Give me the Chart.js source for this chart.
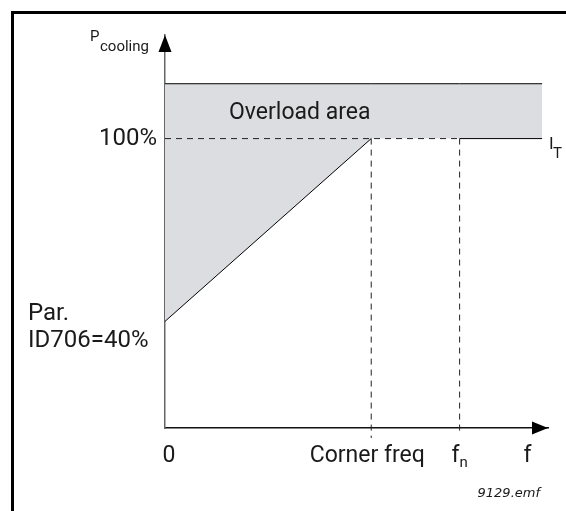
<!DOCTYPE html>
<html>
<head>
<meta charset="utf-8">
<script src="https://cdn.jsdelivr.net/npm/chart.js@4/dist/chart.umd.min.js"></script>
<style>
  html, body { margin: 0; padding: 0; background: #fff; }
  #wrap { position: relative; width: 566px; height: 511px; overflow: hidden; }
  #frame { position: absolute; left: 11px; top: 11px; right: -10px; bottom: -10px;
           border-top: 3px solid #000; border-left: 3px solid #000; }
  canvas { position: absolute; left: 0; top: 0; }
</style>
</head>
<body>
<div id="wrap">
  <div id="frame"></div>
  <canvas id="chart" width="566" height="511"></canvas>
</div>
<script>
// frequency axis is normalised so that f_n = 1
const freqPoints = [0, 0.7, 1.0, 1.28];
const coolingPct = [40, 100, 100, 100];   // I_T curve (lower edge of overload area)
const overloadTop = [118, 118, 118, 118]; // upper edge of the overload area
const rampFreq = [0, 0.7];
const rampPct = [40, 100];
const flatFreq = [1.0, 1.28];
const flatPct = [100, 100];
const guideFreq = [0, 1.0];               // dashed 100% guide
const guidePct = [100, 100];
const cornerFreq = 0.7;
const nominalFreq = 1.0;
const cornerGuidePct = [100, 1.7];
const nominalGuidePct = [100, 3];

const xTickValues = [0, 0.7, 1.0, 1.23];
const xTickLabels = ["0", "Corner freq", "f", "f"];
const xTickSubs = ["", "", "n", ""];

const FONT = "Roboto, 'DejaVu Sans', sans-serif";
const DASH = [6, 5];

function pts(xs, ys) {
  return xs.map((v, i) => ({ x: v, y: ys[i] }));
}

function line(xs, ys, extra) {
  return Object.assign({
    data: pts(xs, ys),
    borderColor: "#000",
    borderWidth: 1,
    fill: false,
    pointRadius: 0
  }, extra || {});
}

const labelPlugin = {
  id: "labels",
  afterDraw(chart) {
    const { ctx, chartArea: a, scales: { x, y } } = chart;
    ctx.save();
    ctx.fillStyle = "#000";

    // axis arrow heads
    ctx.beginPath();
    ctx.moveTo(a.left, a.top);
    ctx.lineTo(a.left - 6.5, a.top + 17);
    ctx.lineTo(a.left + 6.5, a.top + 17);
    ctx.closePath();
    ctx.fill();
    ctx.beginPath();
    ctx.moveTo(a.right, a.bottom);
    ctx.lineTo(a.right - 16, a.bottom - 6.5);
    ctx.lineTo(a.right - 16, a.bottom + 6.5);
    ctx.closePath();
    ctx.fill();

    ctx.fillStyle = "#1a1a1a";
    ctx.textBaseline = "alphabetic";

    // P_cooling
    ctx.textAlign = "left";
    ctx.font = "15px " + FONT;
    ctx.fillText("P", a.left - 75, a.top + 6);
    ctx.fillText("cooling", a.left - 65, a.top + 16);

    // 100%
    const y100 = y.getPixelForValue(100);
    ctx.font = "24px " + FONT;
    ctx.textAlign = "right";
    ctx.textBaseline = "middle";
    ctx.fillText("100%", a.left - 8, y100);

    // Par. ID706=40%
    const y40 = y.getPixelForValue(40);
    ctx.textAlign = "left";
    ctx.fillText("Par.", 28, y40 - 7);
    ctx.fillText("ID706=40%", 28, y40 + 20);

    // Overload area
    ctx.font = "23px " + FONT;
    const yMid = (y.getPixelForValue(overloadTop[0]) + y100) / 2 + 2;
    ctx.fillText("Overload area", a.left + 64, yMid);

    // I_T
    ctx.textBaseline = "alphabetic";
    ctx.font = "17px " + FONT;
    ctx.fillText("I", x.getPixelForValue(1.3) + 1, y100 + 10);
    ctx.font = "15px " + FONT;
    ctx.fillText("T", x.getPixelForValue(1.3) + 5, y100 + 19);

    // x labels
    const base = a.bottom + 34;
    xTickValues.forEach((v, i) => {
      ctx.font = "23px " + FONT;
      const w1 = ctx.measureText(xTickLabels[i]).width;
      ctx.font = "15px " + FONT;
      const w2 = xTickSubs[i] ? ctx.measureText(xTickSubs[i]).width : 0;
      let left = x.getPixelForValue(v) - (w1 + w2) / 2;
      if (i === 0) left += 4;
      if (i === 1) left -= 4;
      ctx.font = "23px " + FONT;
      ctx.fillText(xTickLabels[i], left, base);
      if (xTickSubs[i]) {
        ctx.font = "15px " + FONT;
        ctx.fillText(xTickSubs[i], left + w1, base + 5);
      }
    });

    // file name
    ctx.textAlign = "right";
    ctx.font = "italic 13px 'DejaVu Sans', sans-serif";
    ctx.fillText("9129.emf", 540, a.bottom + 69);
    ctx.restore();
  }
};

new Chart(document.getElementById("chart"), {
  type: "line",
  data: {
    datasets: [
      // overload area: filled down to the cooling curve
      line(freqPoints, overloadTop, { backgroundColor: "#dcdde0", fill: { target: 1 } }),
      line(freqPoints, coolingPct, { borderWidth: 0 }),
      line(rampFreq, rampPct),
      line(flatFreq, flatPct),
      line(guideFreq, guidePct, { borderColor: "#222", borderDash: DASH }),
      line([cornerFreq, cornerFreq], cornerGuidePct, { borderColor: "#222", borderDash: DASH, clip: false }),
      line([nominalFreq, nominalFreq], nominalGuidePct, { borderColor: "#222", borderDash: DASH, clip: false })
    ]
  },
  options: {
    responsive: false,
    animation: false,
    layout: { padding: { left: 165, right: 18, top: 35, bottom: 83 } },
    plugins: {
      legend: { display: false },
      tooltip: { enabled: false },
      filler: { drawTime: "beforeDatasetsDraw" }
    },
    scales: {
      x: {
        type: "linear",
        min: 0,
        max: 1.3,
        grid: { display: false, drawTicks: false },
        ticks: { display: false },
        border: { color: "#111", width: 1.5 }
      },
      y: {
        min: 5,
        max: 134,
        grid: { display: false, drawTicks: false },
        ticks: { display: false },
        border: { color: "#666", width: 1.5 }
      }
    }
  },
  plugins: [labelPlugin]
});
</script>
</body>
</html>
